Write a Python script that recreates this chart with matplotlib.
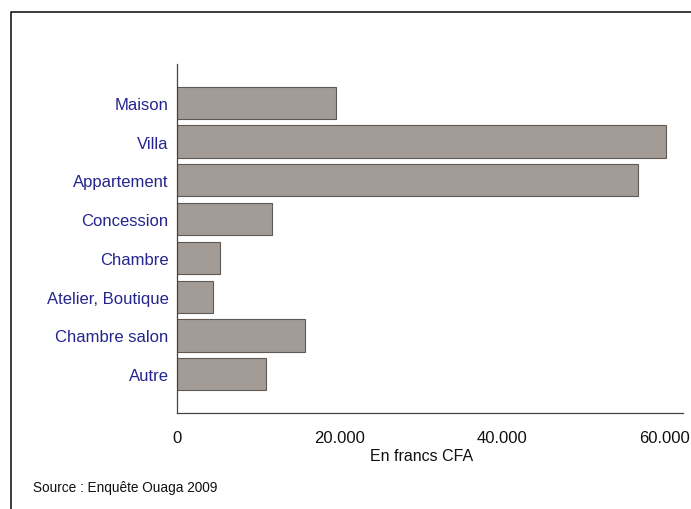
import numpy as np
import matplotlib.pyplot as plt
from matplotlib.lines import Line2D

plt.rcParams["font.family"] = ["Liberation Sans", "DejaVu Sans"]

# average rent by housing type (Ouaga 2009 survey)
categories = ["Maison", "Villa", "Appartement", "Concession", "Chambre",
              "Atelier, Boutique", "Chambre salon", "Autre"]
values = [19600, 60200, 56800, 11700, 5300, 4400, 15700, 10900]
xticks = [0, 20000, 40000, 60000]
xtick_labels = ["0", "20.000", "40.000", "60.000"]

W, H = 691, 510
fig = plt.figure(figsize=(W / 100, H / 100), dpi=100)
fig.patch.set_facecolor("white")

# axes placed in pixel terms of the reference
left, right, top, bottom = 177, 683, 65, 414
ax = fig.add_axes([left / W, 1 - bottom / H, (right - left) / W, (bottom - top) / H])

pos = np.arange(len(categories))
ax.barh(pos, values, height=0.83, color="#a39b95", edgecolor="#5f5a56", linewidth=0.8)
ax.set_ylim(len(categories), -1)
ax.set_xlim(0, 62300)

ax.set_yticks(pos)
ax.set_yticklabels(categories, color="#25258f", fontsize=12)
ax.set_xticks(xticks)
ax.set_xticklabels(xtick_labels, fontsize=12, color="#111111")
ax.tick_params(axis="both", length=0)
ax.tick_params(axis="y", pad=6)
ax.tick_params(axis="x", pad=12)

for s in ["top", "right"]:
    ax.spines[s].set_visible(False)
for s in ["left", "bottom"]:
    ax.spines[s].set_color("#444444")
    ax.spines[s].set_linewidth(0.9)

ax.set_xlabel("En francs CFA", fontsize=11.5, color="#111111")
ax.xaxis.set_label_coords((422 - left) / (right - left), -(457 - bottom) / (bottom - top),
                          transform=ax.transAxes)
ax.xaxis.label.set_va("center")

fig.text(33 / W, 1 - 488 / H, "Source : Enquête Ouaga 2009", fontsize=9.8,
         color="#111111", va="center", ha="left")

# outer frame (top and left edges visible)
fig.lines.append(Line2D([11 / W, 11 / W, 1.0], [0.0, 1 - 13 / H, 1 - 13 / H],
                        transform=fig.transFigure, color="#1a1a1a", linewidth=1.2))

fig.savefig("out.png", dpi=100)
